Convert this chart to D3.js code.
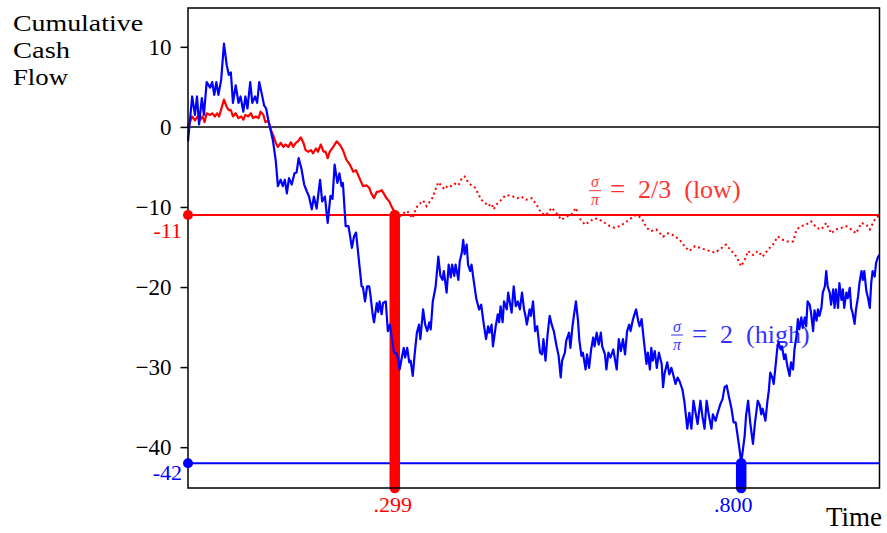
<!DOCTYPE html>
<html>
<head>
<meta charset="utf-8">
<script src="https://cdn.jsdelivr.net/npm/d3@7"></script>
<style>
  body { margin: 0; background: #fff; }
  svg { display: block; font-family: "Liberation Serif", "DejaVu Serif", serif; }
</style>
</head>
<body>
<svg id="chart" width="887" height="533"></svg>
<script>
// cumulative cash flow, high volatility (sigma/pi = 2) : [time, value]
var highPath = [
  [0.000,-1.8],[0.006,3.8],[0.010,1.5],[0.013,3.8],[0.016,0.3],[0.020,3.6],[0.023,1.5],[0.027,5.6],
  [0.032,4.9],[0.035,5.6],[0.038,4.0],[0.041,5.6],[0.044,4.0],[0.048,5.9],[0.052,10.4],[0.056,7.7],
  [0.059,6.5],[0.062,6.8],[0.065,3.0],[0.069,5.2],[0.073,3.0],[0.076,3.8],[0.080,1.9],[0.083,3.8],
  [0.086,2.3],[0.090,5.6],[0.093,3.0],[0.097,3.8],[0.100,3.0],[0.103,5.6],[0.107,4.0],[0.110,2.7],
  [0.113,2.3],[0.116,0.9],[0.120,-0.6],[0.123,-1.8],[0.127,-4.3],[0.130,-7.4],[0.134,-6.6],[0.137,-7.4],
  [0.140,-6.6],[0.143,-8.3],[0.146,-6.4],[0.150,-7.2],[0.154,-5.8],[0.157,-5.7],[0.160,-3.9],[0.164,-5.2],
  [0.168,-7.2],[0.172,-8.1],[0.175,-8.7],[0.179,-10.3],[0.182,-8.7],[0.186,-10.2],[0.191,-6.6],[0.194,-9.3],
  [0.198,-8.7],[0.202,-12.0],[0.206,-8.6],[0.209,-9.0],[0.212,-4.7],[0.216,-7.0],[0.219,-5.8],[0.222,-7.4],
  [0.224,-7.0],[0.228,-12.4],[0.232,-12.4],[0.234,-13.4],[0.237,-15.1],[0.240,-13.7],[0.243,-13.2],[0.246,-15.7],
  [0.251,-19.9],[0.253,-20.0],[0.256,-21.8],[0.259,-19.9],[0.262,-19.9],[0.264,-21.1],[0.267,-23.4],[0.269,-24.4],
  [0.273,-22.0],[0.275,-23.1],[0.277,-21.8],[0.280,-23.4],[0.282,-22.0],[0.286,-21.8],[0.289,-25.5],[0.292,-24.7],
  [0.295,-26.5],[0.298,-28.2],[0.302,-28.3],[0.304,-29.2],[0.306,-30.3],[0.309,-28.9],[0.312,-27.6],[0.314,-28.8],
  [0.317,-27.6],[0.320,-29.4],[0.322,-29.2],[0.325,-31.1],[0.328,-28.2],[0.331,-25.7],[0.334,-24.7],[0.336,-26.5],
  [0.340,-22.8],[0.343,-24.7],[0.346,-25.5],[0.349,-24.4],[0.351,-25.3],[0.354,-21.8],[0.358,-20.0],[0.362,-16.2],
  [0.365,-18.6],[0.368,-19.1],[0.370,-18.0],[0.374,-20.7],[0.377,-17.2],[0.380,-18.8],[0.382,-17.2],[0.385,-18.6],
  [0.387,-17.2],[0.391,-19.1],[0.393,-16.8],[0.396,-15.7],[0.398,-14.1],[0.400,-15.9],[0.403,-14.7],[0.405,-17.2],
  [0.408,-18.0],[0.410,-17.2],[0.413,-19.1],[0.417,-21.5],[0.421,-22.8],[0.424,-22.2],[0.427,-24.2],[0.431,-26.5],
  [0.434,-24.9],[0.436,-25.7],[0.439,-24.7],[0.441,-27.4],[0.445,-24.9],[0.448,-23.4],[0.450,-24.4],[0.452,-22.4],
  [0.455,-24.4],[0.457,-21.8],[0.461,-22.8],[0.463,-20.7],[0.468,-23.2],[0.471,-19.9],[0.474,-22.4],[0.477,-21.8],
  [0.480,-22.8],[0.483,-20.7],[0.486,-22.8],[0.488,-23.6],[0.490,-24.7],[0.494,-22.8],[0.496,-23.6],[0.499,-21.8],
  [0.502,-25.5],[0.505,-24.9],[0.509,-28.2],[0.512,-28.4],[0.514,-26.5],[0.517,-29.2],[0.520,-25.9],[0.523,-23.6],
  [0.526,-24.7],[0.529,-25.5],[0.533,-27.4],[0.536,-28.6],[0.539,-31.3],[0.541,-29.2],[0.545,-28.2],[0.547,-26.7],
  [0.551,-25.7],[0.553,-27.6],[0.556,-24.9],[0.558,-23.6],[0.561,-21.8],[0.564,-24.2],[0.566,-26.7],[0.569,-28.6],
  [0.571,-28.2],[0.575,-30.3],[0.577,-28.4],[0.580,-30.1],[0.583,-27.8],[0.586,-26.3],[0.588,-27.4],[0.591,-25.7],
  [0.594,-27.2],[0.597,-25.7],[0.599,-27.4],[0.603,-28.4],[0.605,-30.3],[0.608,-28.2],[0.611,-28.8],[0.615,-27.8],
  [0.617,-28.8],[0.620,-30.3],[0.623,-26.5],[0.626,-28.0],[0.629,-26.5],[0.632,-28.4],[0.635,-25.5],[0.638,-24.7],
  [0.640,-25.5],[0.643,-24.2],[0.645,-23.6],[0.648,-22.8],[0.651,-24.2],[0.653,-24.9],[0.656,-24.0],[0.659,-26.5],
  [0.663,-29.6],[0.665,-28.2],[0.668,-30.3],[0.670,-27.6],[0.672,-29.2],[0.675,-28.0],[0.678,-30.1],[0.681,-28.2],
  [0.685,-29.6],[0.687,-32.5],[0.689,-30.9],[0.693,-29.4],[0.696,-30.9],[0.699,-30.1],[0.701,-30.7],[0.705,-32.1],
  [0.708,-31.3],[0.711,-31.8],[0.715,-32.8],[0.718,-34.4],[0.722,-37.7],[0.725,-35.7],[0.728,-37.7],[0.731,-34.2],
  [0.734,-35.7],[0.737,-37.1],[0.741,-34.2],[0.744,-36.2],[0.747,-37.7],[0.750,-34.2],[0.753,-35.9],[0.757,-37.7],
  [0.759,-35.9],[0.763,-36.7],[0.766,-35.7],[0.770,-34.6],[0.773,-34.0],[0.776,-32.5],[0.779,-32.3],[0.782,-33.6],
  [0.786,-35.2],[0.789,-36.9],[0.792,-36.9],[0.794,-38.1],[0.797,-39.9],[0.799,-41.2],[0.800,-42.0],[0.805,-38.6],
  [0.807,-36.1],[0.810,-34.2],[0.813,-36.9],[0.817,-39.6],[0.820,-36.9],[0.824,-34.2],[0.827,-34.8],[0.829,-35.9],
  [0.831,-35.2],[0.835,-36.7],[0.838,-34.2],[0.840,-32.9],[0.842,-30.7],[0.845,-31.3],[0.847,-32.1],[0.850,-29.6],
  [0.852,-27.8],[0.854,-26.9],[0.857,-27.8],[0.859,-27.4],[0.862,-29.0],[0.864,-28.4],[0.867,-30.0],[0.870,-31.1],
  [0.872,-29.4],[0.875,-30.3],[0.877,-27.8],[0.880,-26.1],[0.882,-24.0],[0.884,-25.3],[0.887,-23.8],[0.889,-25.1],
  [0.892,-23.8],[0.894,-24.9],[0.896,-21.8],[0.899,-22.2],[0.901,-23.2],[0.904,-25.5],[0.906,-22.9],[0.909,-24.2],
  [0.911,-22.8],[0.913,-23.6],[0.916,-22.6],[0.918,-20.7],[0.921,-19.9],[0.923,-18.0],[0.925,-19.9],[0.928,-20.7],
  [0.930,-22.2],[0.933,-20.3],[0.935,-22.6],[0.937,-20.3],[0.940,-22.6],[0.942,-19.5],[0.945,-21.6],[0.947,-20.3],
  [0.949,-22.6],[0.952,-20.7],[0.954,-21.4],[0.957,-20.1],[0.959,-22.6],[0.961,-23.2],[0.964,-24.6],[0.966,-22.8],
  [0.969,-21.2],[0.971,-19.5],[0.974,-18.0],[0.976,-19.1],[0.978,-18.0],[0.981,-20.5],[0.983,-21.2],[0.986,-22.6],
  [0.988,-19.5],[0.990,-18.0],[0.993,-18.7],[0.995,-17.0],[0.998,-16.2],[1.000,-16.0]
];

// low volatility (sigma/pi = 2/3), solid up to the ruin time
var lowPath = [
  [0.000,0.0],[0.006,1.3],[0.010,0.8],[0.014,1.3],[0.017,0.8],[0.021,1.3],[0.024,0.6],[0.027,1.7],
  [0.032,1.5],[0.035,1.7],[0.039,1.3],[0.042,1.7],[0.045,1.3],[0.049,2.5],[0.052,3.4],[0.056,2.5],
  [0.059,2.1],[0.062,2.1],[0.065,1.3],[0.069,1.7],[0.073,1.1],[0.077,1.3],[0.080,0.9],[0.083,1.5],
  [0.087,1.3],[0.091,1.7],[0.094,1.1],[0.098,1.3],[0.102,1.1],[0.105,1.9],[0.109,1.5],[0.112,0.6],
  [0.116,0.8],[0.120,-0.4],[0.123,-1.0],[0.127,-2.0],[0.130,-2.5],[0.134,-2.0],[0.138,-2.5],[0.141,-2.2],
  [0.145,-2.5],[0.149,-1.9],[0.152,-2.5],[0.156,-2.0],[0.159,-1.8],[0.163,-1.3],[0.167,-2.0],[0.170,-2.9],
  [0.174,-3.1],[0.178,-2.9],[0.181,-3.3],[0.185,-2.7],[0.188,-3.1],[0.192,-2.2],[0.196,-3.1],[0.199,-3.1],
  [0.202,-3.9],[0.205,-3.1],[0.210,-2.5],[0.215,-1.8],[0.220,-2.3],[0.224,-2.9],[0.229,-4.1],[0.234,-4.7],
  [0.239,-5.6],[0.243,-5.4],[0.246,-6.0],[0.250,-6.8],[0.253,-7.4],[0.258,-7.3],[0.262,-7.6],[0.265,-8.3],
  [0.269,-8.9],[0.273,-8.1],[0.276,-8.1],[0.280,-7.9],[0.283,-8.3],[0.287,-8.9],[0.291,-9.3],[0.294,-9.9],
  [0.298,-10.5],[0.299,-11.0]
];

// low volatility path after ruin (dotted)
var lowTail = [
  [0.299,-11.0],[0.306,-11.2],[0.311,-10.8],[0.317,-10.5],[0.321,-11.0],[0.325,-11.4],[0.330,-10.1],[0.334,-9.7],
  [0.340,-9.2],[0.345,-9.9],[0.350,-9.3],[0.354,-8.8],[0.358,-7.8],[0.362,-6.9],[0.367,-7.4],[0.371,-7.8],
  [0.376,-7.3],[0.381,-7.4],[0.386,-7.1],[0.391,-7.3],[0.396,-6.4],[0.400,-6.2],[0.405,-6.9],[0.410,-7.3],
  [0.415,-7.6],[0.420,-8.4],[0.424,-9.1],[0.429,-9.4],[0.434,-9.9],[0.439,-9.6],[0.442,-10.3],[0.446,-9.7],
  [0.451,-9.3],[0.456,-8.8],[0.461,-8.5],[0.465,-8.6],[0.470,-8.7],[0.477,-8.9],[0.482,-8.7],[0.489,-9.1],
  [0.497,-8.9],[0.504,-9.7],[0.511,-10.8],[0.518,-11.0],[0.526,-10.1],[0.533,-10.8],[0.540,-11.6],[0.547,-11.2],
  [0.554,-11.0],[0.561,-10.1],[0.566,-11.4],[0.574,-12.2],[0.581,-11.8],[0.588,-11.4],[0.595,-11.6],[0.603,-12.0],
  [0.610,-12.4],[0.617,-12.6],[0.624,-12.4],[0.632,-12.0],[0.639,-11.5],[0.648,-11.0],[0.656,-11.4],[0.663,-12.6],
  [0.670,-13.0],[0.677,-12.8],[0.687,-13.7],[0.694,-13.3],[0.701,-13.5],[0.711,-14.1],[0.718,-14.9],[0.725,-15.5],
  [0.733,-14.9],[0.740,-15.1],[0.747,-15.3],[0.754,-15.5],[0.762,-15.7],[0.769,-15.3],[0.778,-14.7],[0.786,-15.5],
  [0.793,-16.2],[0.800,-17.4],[0.805,-16.6],[0.810,-15.5],[0.817,-16.0],[0.824,-15.5],[0.831,-16.2],[0.839,-15.3],
  [0.846,-14.7],[0.853,-13.7],[0.860,-14.1],[0.867,-14.3],[0.875,-14.3],[0.880,-12.8],[0.887,-12.4],[0.894,-12.2],
  [0.901,-11.8],[0.909,-12.6],[0.916,-12.8],[0.923,-12.0],[0.930,-13.3],[0.937,-12.8],[0.945,-12.6],[0.952,-12.4],
  [0.959,-12.8],[0.966,-13.3],[0.974,-12.0],[0.981,-12.2],[0.986,-12.8],[0.993,-11.6],[1.000,-11.0]
];

var yTicks = [10, 0, -10, -20, -30, -40];
var lowLevel = -11, highLevel = -42;
var lowRuin = 0.299, highRuin = 0.800;
var lowRuinLabel = ".299", highRuinLabel = ".800";
var lowLevelLabel = "-11", highLevelLabel = "-42";
var lowRatioLabel = "2/3  (low)", highRatioLabel = "2  (high)";
var titleLines = ["Cumulative", "Cash", "Flow"];
var titleWidths = [130, 57, 55];

var RED = "#ff0000", BLUE = "#0000ff";

var svg = d3.select("#chart"),
    margin = {top: 8, right: 7.5, bottom: 45, left: 188},
    width = +svg.attr("width") - margin.left - margin.right,
    height = +svg.attr("height") - margin.top - margin.bottom;

var x = d3.scaleLinear().domain([0, 1]).range([0, width]);
var y = d3.scaleLinear().domain([-45.1, 14.85]).range([height, 0]);

var g = svg.append("g").attr("transform", "translate(" + margin.left + "," + margin.top + ")");

var line = d3.line()
    .x(function(d) { return x(d[0]); })
    .y(function(d) { return y(d[1]); });

// y axis, ticks pointing out
var yAxis = g.append("g")
    .call(d3.axisLeft(y).tickValues(yTicks).tickSize(7.5).tickPadding(9)
      .tickFormat(function(d) { return d < 0 ? "\u2212" + Math.abs(d) : d; }));
yAxis.select(".domain").remove();
yAxis.selectAll(".tick line").attr("stroke", "#000").attr("stroke-width", 1.5);
yAxis.selectAll(".tick text")
    .attr("font-family", "Liberation Serif")
    .attr("font-size", 23)
    .attr("fill", "#000")
    .attr("dy", "0.34em");

/*
 * sigma/pi label, drawn under the paths
 */
function fracLabel(cx, barY, rest, color) {
  var lab = g.append("g").attr("fill", color).attr("opacity", 0.8);
  lab.append("text").attr("x", cx).attr("y", barY - 3.5).attr("text-anchor", "middle")
     .attr("font-size", 16).attr("font-style", "italic").text("\u03c3");
  lab.append("line").attr("x1", cx - 6).attr("x2", cx + 6).attr("y1", barY).attr("y2", barY)
     .attr("stroke", color).attr("stroke-width", 1);
  lab.append("text").attr("x", cx).attr("y", barY + 14.5).attr("text-anchor", "middle")
     .attr("font-size", 16).attr("font-style", "italic").text("\u03c0");
  lab.append("text").attr("x", cx + 15).attr("y", barY + 7.5).attr("font-size", 27).text("=");
  lab.append("text").attr("x", cx + 43).attr("y", barY + 7.5).attr("font-size", 26)
     .attr("xml:space", "preserve").text(rest);
}
fracLabel(595 - margin.left, 190.7 - margin.top, lowRatioLabel, RED);
fracLabel(677 - margin.left, 335 - margin.top, highRatioLabel, BLUE);

// zero line and ruin levels
g.append("line").attr("x1", 0).attr("x2", width).attr("y1", y(0)).attr("y2", y(0))
    .attr("stroke", "#000").attr("stroke-width", 1.5);
g.append("line").attr("x1", 0).attr("x2", width).attr("y1", y(lowLevel)).attr("y2", y(lowLevel))
    .attr("stroke", RED).attr("stroke-width", 2);
g.append("line").attr("x1", 0).attr("x2", width).attr("y1", y(highLevel)).attr("y2", y(highLevel))
    .attr("stroke", BLUE).attr("stroke-width", 2);

// ruin time bars
g.append("line").attr("x1", x(lowRuin)).attr("x2", x(lowRuin))
    .attr("y1", y(lowLevel)).attr("y2", y(-45.1))
    .attr("stroke", RED).attr("stroke-width", 10.5).attr("stroke-linecap", "round");
g.append("line").attr("x1", x(highRuin)).attr("x2", x(highRuin))
    .attr("y1", y(highLevel)).attr("y2", y(-45.1))
    .attr("stroke", BLUE).attr("stroke-width", 10.5).attr("stroke-linecap", "round");

// paths
g.append("path").datum(lowTail).attr("d", line)
    .attr("fill", "none").attr("stroke", RED).attr("stroke-width", 2)
    .attr("stroke-dasharray", "2,3");
g.append("path").datum(lowPath).attr("d", line)
    .attr("fill", "none").attr("stroke", RED).attr("stroke-width", 2.2).attr("stroke-linejoin", "round");
g.append("path").datum(highPath).attr("d", line)
    .attr("fill", "none").attr("stroke", BLUE).attr("stroke-width", 2.2).attr("stroke-linejoin", "round");

// frame
g.append("rect").attr("x", 0).attr("y", 0).attr("width", width).attr("height", height)
    .attr("fill", "none").attr("stroke", "#000").attr("stroke-width", 1.5);

// level markers on the axis
g.append("circle").attr("cx", 0).attr("cy", y(lowLevel)).attr("r", 5).attr("fill", RED);
g.append("circle").attr("cx", 0).attr("cy", y(highLevel)).attr("r", 5).attr("fill", BLUE);

g.append("text").attr("x", -6).attr("y", y(lowLevel) + 23).attr("text-anchor", "end")
    .attr("font-size", 22).attr("fill", RED).text(lowLevelLabel);
g.append("text").attr("x", -6).attr("y", y(highLevel) + 17).attr("text-anchor", "end")
    .attr("font-size", 22).attr("fill", BLUE).text(highLevelLabel);

g.append("text").attr("x", x(lowRuin) - 2).attr("y", height + 24).attr("text-anchor", "middle")
    .attr("font-size", 22).attr("fill", RED).text(lowRuinLabel);
g.append("text").attr("x", x(highRuin) - 8).attr("y", height + 24).attr("text-anchor", "middle")
    .attr("font-size", 22).attr("fill", BLUE).text(highRuinLabel);

// axis titles
svg.append("text").attr("x", 882).attr("y", 526).attr("text-anchor", "end")
    .attr("font-size", 27).text("Time");
svg.selectAll(".ytitle").data(titleLines).enter().append("text")
    .attr("class", "ytitle")
    .attr("x", 13)
    .attr("y", function(d, i) { return 31 + i * 27; })
    .attr("font-size", 24)
    .attr("textLength", function(d, i) { return titleWidths[i]; })
    .attr("lengthAdjust", "spacingAndGlyphs")
    .text(function(d) { return d; });
</script>
</body>
</html>
